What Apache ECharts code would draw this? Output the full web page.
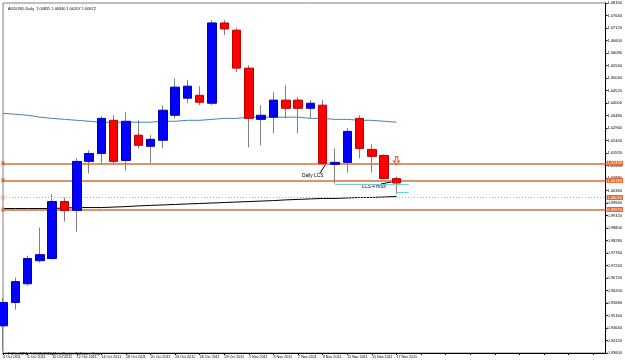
<!DOCTYPE html>
<html>
<head>
<meta charset="utf-8">
<title>AUDUSD,Daily</title>
<script src="https://cdn.jsdelivr.net/npm/echarts@6/dist/echarts.min.js"></script>
<style>
    html, body { margin: 0; padding: 0; background: #fff; }
    #chart { width: 625px; height: 360px; }
</style>
</head>
<body>
<div id="chart"></div>
<script>
var dates = ['4 Oct 2011', '5 Oct 2011', '6 Oct 2011', '7 Oct 2011', '10 Oct 2011', '11 Oct 2011', '12 Oct 2011',
    '13 Oct 2011', '14 Oct 2011', '17 Oct 2011', '18 Oct 2011', '19 Oct 2011', '20 Oct 2011', '21 Oct 2011',
    '24 Oct 2011', '25 Oct 2011', '26 Oct 2011', '27 Oct 2011', '28 Oct 2011', '31 Oct 2011', '1 Nov 2011',
    '2 Nov 2011', '3 Nov 2011', '4 Nov 2011', '7 Nov 2011', '8 Nov 2011', '9 Nov 2011', '10 Nov 2011',
    '11 Nov 2011', '14 Nov 2011', '15 Nov 2011', '16 Nov 2011', '17 Nov 2011'];

var opens = [0.9473, 0.9570, 0.9648, 0.9744, 0.9753, 0.9990, 0.9953, 1.0157, 1.0190, 1.0328, 1.0161, 1.0266,
    1.0220, 1.0245, 1.0349, 1.0420, 1.0432, 1.0399, 1.0733, 1.0703, 1.0545, 1.0332, 1.0341, 1.0412, 1.0412,
    1.0378, 1.0391, 1.0145, 1.0153, 1.0336, 1.0207, 1.0182, 1.00855];
var closes = [0.9570, 0.9657, 0.9753, 0.9769, 0.9990, 0.9953, 1.0157, 1.0190, 1.0336, 1.0157, 1.0324, 1.0224,
    1.0249, 1.0370, 1.0466, 1.0470, 1.0403, 1.0733, 1.0708, 1.0545, 1.0336, 1.0349, 1.0412, 1.0378, 1.0378,
    1.0399, 1.0149, 1.0153, 1.0282, 1.0211, 1.0178, 1.0086, 1.00672];
var lows = [0.9369, 0.9540, 0.9640, 0.9736, 0.9749, 0.9907, 0.9865, 1.0107, 1.0145, 1.0145, 1.0120, 1.0211,
    1.0149, 1.0211, 1.0336, 1.0399, 1.0391, 1.0391, 1.0683, 1.0528, 1.0216, 1.0224, 1.0274, 1.0336, 1.0274,
    1.0336, 1.0140, 1.0065, 1.0111, 1.0170, 1.0111, 1.0082, 1.00207];
var highs = [0.9590, 0.9674, 0.9765, 0.9882, 1.0020, 1.0007, 1.0170, 1.0203, 1.0345, 1.0349, 1.0361, 1.0328,
    1.0266, 1.0391, 1.0503, 1.0495, 1.0470, 1.0745, 1.0745, 1.0712, 1.0557, 1.0391, 1.0445, 1.0474, 1.0424,
    1.0412, 1.0412, 1.0211, 1.0295, 1.0349, 1.0228, 1.0186, 1.00940];

// blue and black moving averages
var maBlue = [1.0357, 1.0353, 1.0349, 1.0341, 1.0336, 1.0332, 1.0328, 1.0324, 1.0320, 1.0320, 1.0320, 1.0320,
    1.0320, 1.0324, 1.0324, 1.0328, 1.0328, 1.0332, 1.0336, 1.0336, 1.0341, 1.0341, 1.0341, 1.0341, 1.0341,
    1.0336, 1.0336, 1.0332, 1.0332, 1.0328, 1.0328, 1.0324, 1.0320];
var maBlack = [0.9961, 0.9961, 0.9961, 0.9961, 0.9961, 0.9963, 0.9965, 0.9965, 0.9965, 0.9967, 0.9969, 0.9972,
    0.9974, 0.9976, 0.9978, 0.9980, 0.9982, 0.9984, 0.9986, 0.9988, 0.9990, 0.9992, 0.9994, 0.9997, 0.9999,
    1.0001, 1.0003, 1.0003, 1.0005, 1.0007, 1.0007, 1.0009, 1.0011];

var levels = [1.0149, 1.0078, 0.9957];
var bidLevel = 1.0007;
var lcsLevels = [1.0061, 1.0028];
var arrowPrice = 1.0160;

var yMin = 0.9360, yMax = 1.0816, yStep = 0.0052;
var extraBars = 17;

var font = 'Liberation Sans';
var chart = echarts.init(document.getElementById('chart'));

var categories = dates.slice();
for (var k = 0; k < extraBars; k++) {
    categories.push('');
}

var wickData = [], bodyData = [];
for (var i = 0; i < dates.length; i++) {
    wickData.push([opens[i], closes[i], lows[i], highs[i]]);
    bodyData.push([opens[i], closes[i], Math.min(opens[i], closes[i]), Math.max(opens[i], closes[i])]);
}

var last = dates.length - 1;

function levelLines() {
    var arr = [];
    levels.forEach(function (v) {
        arr.push({yAxis: v});
    });
    arr.push({
        yAxis: bidLevel,
        lineStyle: {color: '#e0a07a', type: [1, 2], width: 1}
    });
    return arr;
}

chart.setOption({
    animation: false,
    backgroundColor: '#fff',
    title: [{
        text: 'AUDUSD,Daily  1.00855 1.00940 1.00207 1.00672',
        left: 3, top: 2,
        textStyle: {fontSize: 3.9, fontWeight: 'normal', color: '#000', fontFamily: font}
    }, {
        text: 'FxPro MT4, \u00a9 2001-2010 MetaQuotes Software Corp.',
        left: 3, top: 347,
        textStyle: {fontSize: 3.9, fontWeight: 'normal', color: '#000', fontFamily: font}
    }],
    grid: {
        left: 1, right: 14, top: 3, bottom: 7,
        show: true, borderColor: '#808080', borderWidth: 1
    },
    xAxis: {
        type: 'category',
        data: categories,
        boundaryGap: false,
        axisLine: {lineStyle: {color: '#000', width: 1}},
        axisTick: {show: true, interval: 1, length: 2, lineStyle: {color: '#000'}},
        axisLabel: {
            interval: 1, align: 'left', margin: 2, showMinLabel: true,
            fontSize: 3.7, color: '#000', fontFamily: font
        },
        splitLine: {show: false}
    },
    yAxis: {
        type: 'value',
        position: 'right',
        min: yMin, max: yMax, interval: yStep,
        axisLine: {show: true, lineStyle: {color: '#000', width: 1}},
        axisTick: {show: true, length: 2, lineStyle: {color: '#000'}},
        axisLabel: {
            margin: 2, fontSize: 4, color: '#000', fontFamily: font,
            formatter: function (v) { return v.toFixed(5); }
        },
        splitLine: {show: false}
    },
    graphic: [{
        type: 'text', left: 302, top: 173,
        style: {text: 'Daily LCS', fontSize: 4.8, fill: '#000', fontFamily: font}
    }, {
        type: 'line', shape: {x1: 320, y1: 173, x2: 326, y2: 164},
        style: {stroke: '#000', lineWidth: 1}
    }, {
        type: 'text', left: 362, top: 184,
        style: {text: 'LCS 4 Hour', fontSize: 4.6, fill: '#000', fontFamily: font}
    }, {
        type: 'line', shape: {x1: 381, y1: 184, x2: 396, y2: 181},
        style: {stroke: '#000', lineWidth: 1}
    }],
    series: [{
        name: 'wick',
        type: 'candlestick',
        data: wickData,
        barWidth: 1,
        itemStyle: {color: '#808080', color0: '#808080', borderColor: '#808080', borderColor0: '#808080', borderWidth: 1},
        markLine: {
            silent: true,
            precision: 5,
            symbol: ['rect', 'none'],
            symbolSize: [4, 3],
            lineStyle: {color: '#cf7040', type: 'solid', width: 1.5},
            label: {
                position: 'end', distance: 1,
                backgroundColor: '#e8642a', color: '#fff', padding: [1, 1, 0, 1],
                fontSize: 4, fontFamily: font,
                formatter: function (p) { return Number(p.value).toFixed(5); }
            },
            data: levelLines()
        },
        z: 2
    }, {
        name: 'ma1',
        type: 'line',
        data: maBlue,
        symbol: 'none',
        lineStyle: {color: '#4682b4', width: 1},
        z: 3
    }, {
        name: 'ma2',
        type: 'line',
        data: maBlack,
        symbol: 'none',
        lineStyle: {color: '#000', width: 1},
        markLine: {
            silent: true,
            precision: 5,
            symbol: 'none',
            label: {show: false},
            lineStyle: {color: '#6fd0dc', type: 'solid', width: 1},
            data: [
                [{coord: [27, lcsLevels[0]]}, {coord: [last + 1, lcsLevels[0]]}],
                [{coord: [last, lcsLevels[1]]}, {coord: [last + 1, lcsLevels[1]]}]
            ]
        },
        z: 3
    }, {
        name: 'body',
        type: 'candlestick',
        data: bodyData,
        barWidth: 9,
        itemStyle: {color: '#0000ff', color0: '#ff0000', borderColor: '#0000b0', borderColor0: '#c00000', borderWidth: 1},
        markPoint: {
            silent: true,
            precision: 5,
            symbol: 'path://M3,0 L7,0 L7,6 L10,6 L5,11 L0,6 L3,6 Z',
            symbolSize: [6, 8],
            itemStyle: {color: 'rgba(0,0,0,0)', borderColor: '#e0522a', borderWidth: 1},
            label: {show: false},
            data: [{coord: [last, arrowPrice]}]
        },
        z: 5
    }]
});
</script>
</body>
</html>
